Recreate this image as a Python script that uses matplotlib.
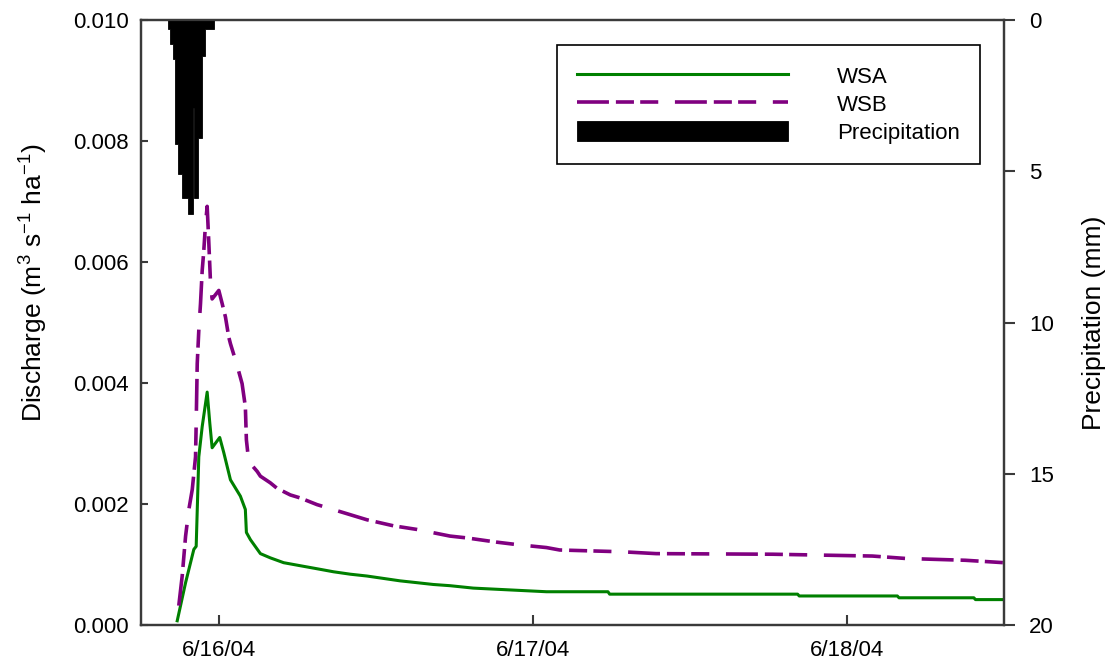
import matplotlib
matplotlib.use("Agg")
import matplotlib.pyplot as plt

# time axis is hours after 6/16/04 00:00
rain_edges = [-3.92, -3.79, -3.56, -3.41, -3.18, -2.85, -2.65, -2.39,
              -2.06, -1.96, -1.65, -1.32, -1.07, -0.38]
rain_mm = [0.3, 0.8, 1.3, 4.1, 5.1, 5.9, 5.9, 6.4, 2.9, 5.9, 3.9, 1.2, 0.3]

wsa_hours = [-3.23, -2.59, -1.96, -1.78, -1.58, -1.32, -0.94, -0.74, -0.56,
             0.02, 0.33, 0.84, 1.60, 1.98, 2.06, 2.37, 3.13, 3.89, 4.91,
             6.18, 7.46, 8.72, 10.0, 11.27, 12.54, 13.81, 15.09, 16.35,
             17.63, 19.41, 22.21, 25.01, 29.71, 29.84, 44.21, 44.34, 51.84,
             51.97, 57.69, 57.82, 60.0]
wsa_q = [0.00007, 0.0007, 0.00125, 0.0013, 0.00278, 0.00328, 0.00385,
         0.00334, 0.00293, 0.0031, 0.00285, 0.0024, 0.00213, 0.00191,
         0.00153, 0.00141, 0.00118, 0.00111, 0.00103, 0.00098, 0.00093,
         0.00088, 0.00084, 0.00081, 0.00077, 0.00073, 0.0007, 0.00067,
         0.00065, 0.00061, 0.00058, 0.00055, 0.00055, 0.00051, 0.00051,
         0.00048, 0.00048, 0.00045, 0.00045, 0.00042, 0.00042]

wsb_hours = [-3.11, -2.85, -2.59, -2.34, -2.08, -1.83, -1.78, -1.70, -1.58,
             -1.45, -1.32, -1.20, -1.07, -0.94, -0.82, -0.69, -0.56, -0.05,
             0.21, 0.46, 0.71, 0.84, 1.35, 1.73, 1.98, 2.06, 2.24, 2.88,
             3.13, 3.89, 4.40, 5.42, 6.18, 7.46, 9.75, 11.27, 13.30, 15.09,
             17.63, 18.90, 21.19, 22.72, 25.01, 26.02, 30.85, 33.40, 42.30,
             49.93, 52.47, 57.05, 60.0]
wsb_q = [0.00032, 0.00081, 0.00147, 0.00191, 0.00224, 0.00278, 0.00333,
         0.00432, 0.00487, 0.00531, 0.00586, 0.00618, 0.00662, 0.00692,
         0.00635, 0.00569, 0.00539, 0.00553, 0.00531, 0.00509, 0.00476,
         0.00465, 0.00429, 0.00399, 0.00361, 0.00306, 0.0027, 0.00254,
         0.00246, 0.00235, 0.00226, 0.00215, 0.0021, 0.00199, 0.00184,
         0.00174, 0.00164, 0.00158, 0.00147, 0.00144, 0.00137, 0.00133,
         0.00128, 0.00124, 0.00121, 0.00118, 0.00117, 0.00114, 0.0011,
         0.00107, 0.00103]

date_ticks = [0, 24, 48]
date_labels = ["6/16/04", "6/17/04", "6/18/04"]
q_ticks = [0.0, 0.002, 0.004, 0.006, 0.008, 0.010]
rain_ticks = [0, 5, 10, 15, 20]

plt.rcParams["font.family"] = ["Liberation Sans", "DejaVu Sans"]
plt.rcParams["mathtext.default"] = "regular"
plt.rcParams["lines.scale_dashes"] = False

spine_color = "#3a3a3a"

fig = plt.figure(figsize=(11.12, 6.63), dpi=100)
ax = fig.add_axes([0.1268, 0.0573, 0.7761, 0.9125])
ax2 = ax.twinx()

line_a, = ax.plot(wsa_hours, wsa_q, color="#008000", lw=2.2, label="WSA")
line_b, = ax.plot(wsb_hours, wsb_q, color="#800080", lw=2.6, label="WSB",
                  dashes=[23, 5, 13, 4.5, 13, 12])

# rainfall hangs down from the top of the inverted right axis
rain = ax2.stairs(rain_mm, rain_edges, baseline=0, fill=True,
                  facecolor="black", edgecolor="black", linewidth=0.6,
                  label="Precipitation")

ax.set_xlim(-6, 60)
ax.set_ylim(0, 0.010)
ax2.set_ylim(20, 0)

ax.set_xticks(date_ticks, date_labels)
ax.set_yticks(q_ticks, [f"{v:.3f}" for v in q_ticks])
ax2.set_yticks(rain_ticks, [str(v) for v in rain_ticks])

ax.tick_params(axis="x", direction="in", length=7, width=1.5,
               color=spine_color, labelsize=16, pad=11)
ax.tick_params(axis="y", direction="in", length=5, width=1.5,
               color=spine_color, labelsize=16, pad=9)
ax2.tick_params(axis="y", direction="out", length=8, width=1.5,
                color=spine_color, labelsize=16, pad=10)

for a in (ax, ax2):
    for sp in a.spines.values():
        sp.set_color(spine_color)
        sp.set_linewidth(1.6)

ax.set_ylabel("Discharge (m$^{3}$ s$^{-1}$ ha$^{-1}$)", fontsize=19)
ax.yaxis.set_label_coords(-0.105, 0.565)
ax2.set_ylabel("Precipitation (mm)", fontsize=19, labelpad=20)

leg = ax2.legend([line_a, line_b, rain], ["WSA", "WSB", "Precipitation"],
                 loc="upper right", bbox_to_anchor=(0.972, 0.9587),
                 borderaxespad=0, fontsize=16, handlelength=9.5,
                 handletextpad=2.2, handleheight=1.0, labelspacing=0.25,
                 borderpad=0.9, fancybox=False, framealpha=1)
leg.get_frame().set_edgecolor("black")
leg.get_frame().set_linewidth(1.2)

fig.savefig("out.png", dpi=100)
